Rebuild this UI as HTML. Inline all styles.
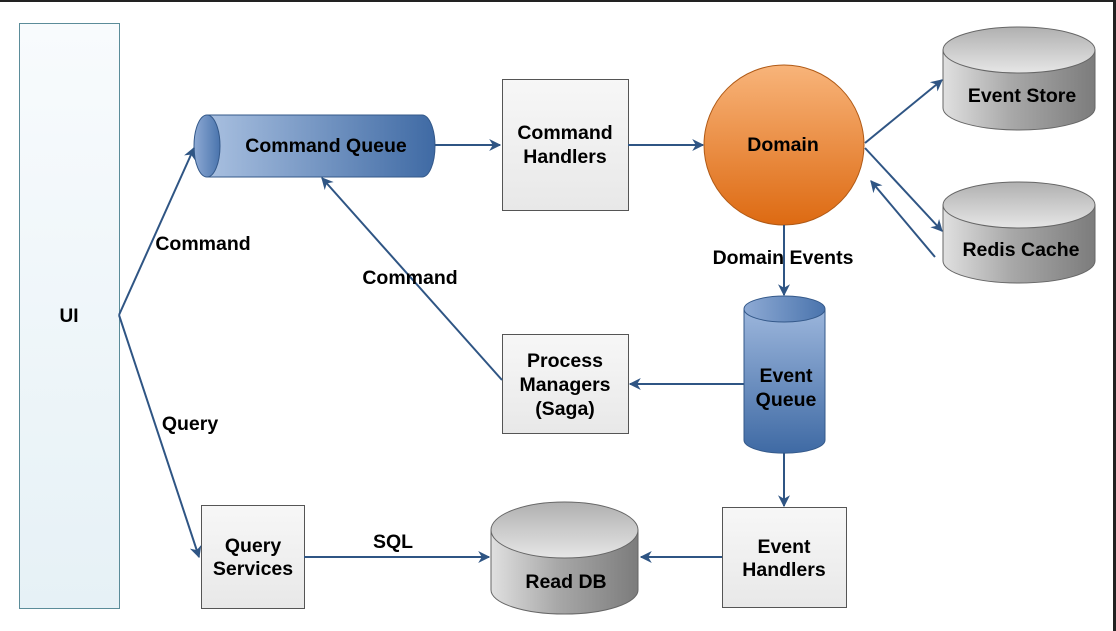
<!DOCTYPE html>
<html><head><style>
html,body{margin:0;padding:0;background:#fff;}
svg{display:block;font-family:"Liberation Sans",Arial,sans-serif;font-weight:bold;}
</style></head><body>
<svg width="1116" height="631" viewBox="0 0 1116 631" xmlns="http://www.w3.org/2000/svg">
<defs>
<linearGradient id="ui" x1="0" y1="0" x2="0" y2="1"><stop offset="0" stop-color="#f8fbfd"/><stop offset="1" stop-color="#e6f1f6"/></linearGradient>
<linearGradient id="box" x1="0" y1="0" x2="0" y2="1"><stop offset="0" stop-color="#f7f7f7"/><stop offset="1" stop-color="#e8e8e8"/></linearGradient>
<linearGradient id="cqh" x1="0" y1="0" x2="1" y2="0"><stop offset="0" stop-color="#a9c0e0"/><stop offset="1" stop-color="#3f6aa4"/></linearGradient>
<linearGradient id="cqv" x1="0" y1="0" x2="0" y2="1"><stop offset="0" stop-color="#9cb6dc"/><stop offset="1" stop-color="#3f6aa4"/></linearGradient>
<linearGradient id="cap" x1="0" y1="0" x2="1" y2="0"><stop offset="0" stop-color="#8eaad4"/><stop offset="1" stop-color="#4a74ad"/></linearGradient>
<linearGradient id="dom" x1="0" y1="0" x2="0" y2="1"><stop offset="0" stop-color="#f8b47a"/><stop offset="1" stop-color="#dd6a12"/></linearGradient>
<linearGradient id="db" x1="0" y1="0" x2="1" y2="0"><stop offset="0" stop-color="#e0e0e0"/><stop offset="0.45" stop-color="#a8a8a8"/><stop offset="1" stop-color="#7c7c7c"/></linearGradient>
<linearGradient id="dbt" x1="0" y1="0" x2="0" y2="1"><stop offset="0" stop-color="#b0b0b0"/><stop offset="1" stop-color="#e6e6e6"/></linearGradient>
<marker id="a" viewBox="0 0 10 10" refX="9" refY="5" markerWidth="12" markerHeight="12" orient="auto" markerUnits="userSpaceOnUse"><path d="M0,0 L10,5 L0,10 L3,5 z" fill="#2f5584"/></marker>
</defs>
<rect x="0" y="0" width="1116" height="2" fill="#222"/>
<rect x="1113" y="0" width="3" height="631" fill="#222"/>

<rect x="19.5" y="23.5" width="100" height="585" fill="url(#ui)" stroke="#5b8c99"/>
<text x="69" y="322" font-size="19" text-anchor="middle">UI</text>

<path d="M207,115 L422,115 A13,31 0 0 1 422,177 L207,177 Z" fill="url(#cqh)" stroke="#34598a"/>
<ellipse cx="207" cy="146" rx="13" ry="31" fill="url(#cap)" stroke="#34598a"/>
<text x="326" y="152" font-size="19.5" text-anchor="middle">Command Queue</text>

<rect x="502.5" y="79.5" width="126" height="131" fill="url(#box)" stroke="#555"/>
<text x="565" y="139" font-size="19.5" text-anchor="middle">Command</text>
<text x="565" y="163" font-size="19.5" text-anchor="middle">Handlers</text>

<circle cx="784" cy="145" r="80" fill="url(#dom)" stroke="#b05a16"/>
<text x="783" y="151" font-size="19.5" text-anchor="middle">Domain</text>

<path d="M943,50 L943,108 A76,22 0 0 0 1095,108 L1095,50 Z" fill="url(#db)" stroke="#666"/>
<ellipse cx="1019" cy="50" rx="76" ry="23" fill="url(#dbt)" stroke="#666"/>
<text x="1022" y="102" font-size="19.5" text-anchor="middle">Event Store</text>
<path d="M943,205 L943,261 A76,22 0 0 0 1095,261 L1095,205 Z" fill="url(#db)" stroke="#666"/>
<ellipse cx="1019" cy="205" rx="76" ry="23" fill="url(#dbt)" stroke="#666"/>
<text x="1021" y="256" font-size="19.5" text-anchor="middle">Redis Cache</text>

<path d="M744,309 L744,440 A40,13 0 0 0 825,440 L825,309 Z" fill="url(#cqv)" stroke="#34598a"/>
<ellipse cx="784.5" cy="309" rx="40.5" ry="13" fill="url(#cap)" stroke="#34598a"/>
<text x="786" y="382" font-size="19.5" text-anchor="middle">Event</text>
<text x="786" y="406" font-size="19.5" text-anchor="middle">Queue</text>

<rect x="502.5" y="334.5" width="126" height="99" fill="url(#box)" stroke="#555"/>
<text x="565" y="367" font-size="19.5" text-anchor="middle">Process</text>
<text x="565" y="391" font-size="19.5" text-anchor="middle">Managers</text>
<text x="565" y="415" font-size="19.5" text-anchor="middle">(Saga)</text>

<rect x="201.5" y="505.5" width="103" height="103" fill="url(#box)" stroke="#555"/>
<text x="253" y="552" font-size="19.5" text-anchor="middle">Query</text>
<text x="253" y="575" font-size="19.5" text-anchor="middle">Services</text>

<path d="M491,530 L491,590 A73.5,24 0 0 0 638,590 L638,530 Z" fill="url(#db)" stroke="#666"/>
<ellipse cx="564.5" cy="530" rx="73.5" ry="28" fill="url(#dbt)" stroke="#666"/>
<text x="566" y="588" font-size="19.5" text-anchor="middle">Read DB</text>

<rect x="722.5" y="507.5" width="124" height="100" fill="url(#box)" stroke="#555"/>
<text x="784" y="553" font-size="19.5" text-anchor="middle">Event</text>
<text x="784" y="576" font-size="19.5" text-anchor="middle">Handlers</text>

<g stroke="#2f5584" stroke-width="2" fill="none" marker-end="url(#a)">
<line x1="119" y1="315" x2="194" y2="148"/>
<line x1="119" y1="315" x2="199" y2="557"/>
<line x1="435" y1="145" x2="500" y2="145"/>
<line x1="628" y1="145" x2="703" y2="145"/>
<line x1="865" y1="143" x2="942" y2="80"/>
<line x1="865" y1="148" x2="942" y2="231"/>
<line x1="935" y1="257" x2="871" y2="181"/>
<line x1="784" y1="225" x2="784" y2="295"/>
<line x1="744" y1="384" x2="630" y2="384"/>
<line x1="502" y1="380" x2="322" y2="178"/>
<line x1="784" y1="453" x2="784" y2="506"/>
<line x1="722" y1="557" x2="641" y2="557"/>
<line x1="304" y1="557" x2="489" y2="557"/>
</g>

<g font-size="19.5" text-anchor="middle">
<text x="203" y="250">Command</text>
<text x="190" y="430">Query</text>
<text x="410" y="284">Command</text>
<text x="783" y="264">Domain Events</text>
<text x="393" y="548">SQL</text>
</g>
</svg>
</body></html>
